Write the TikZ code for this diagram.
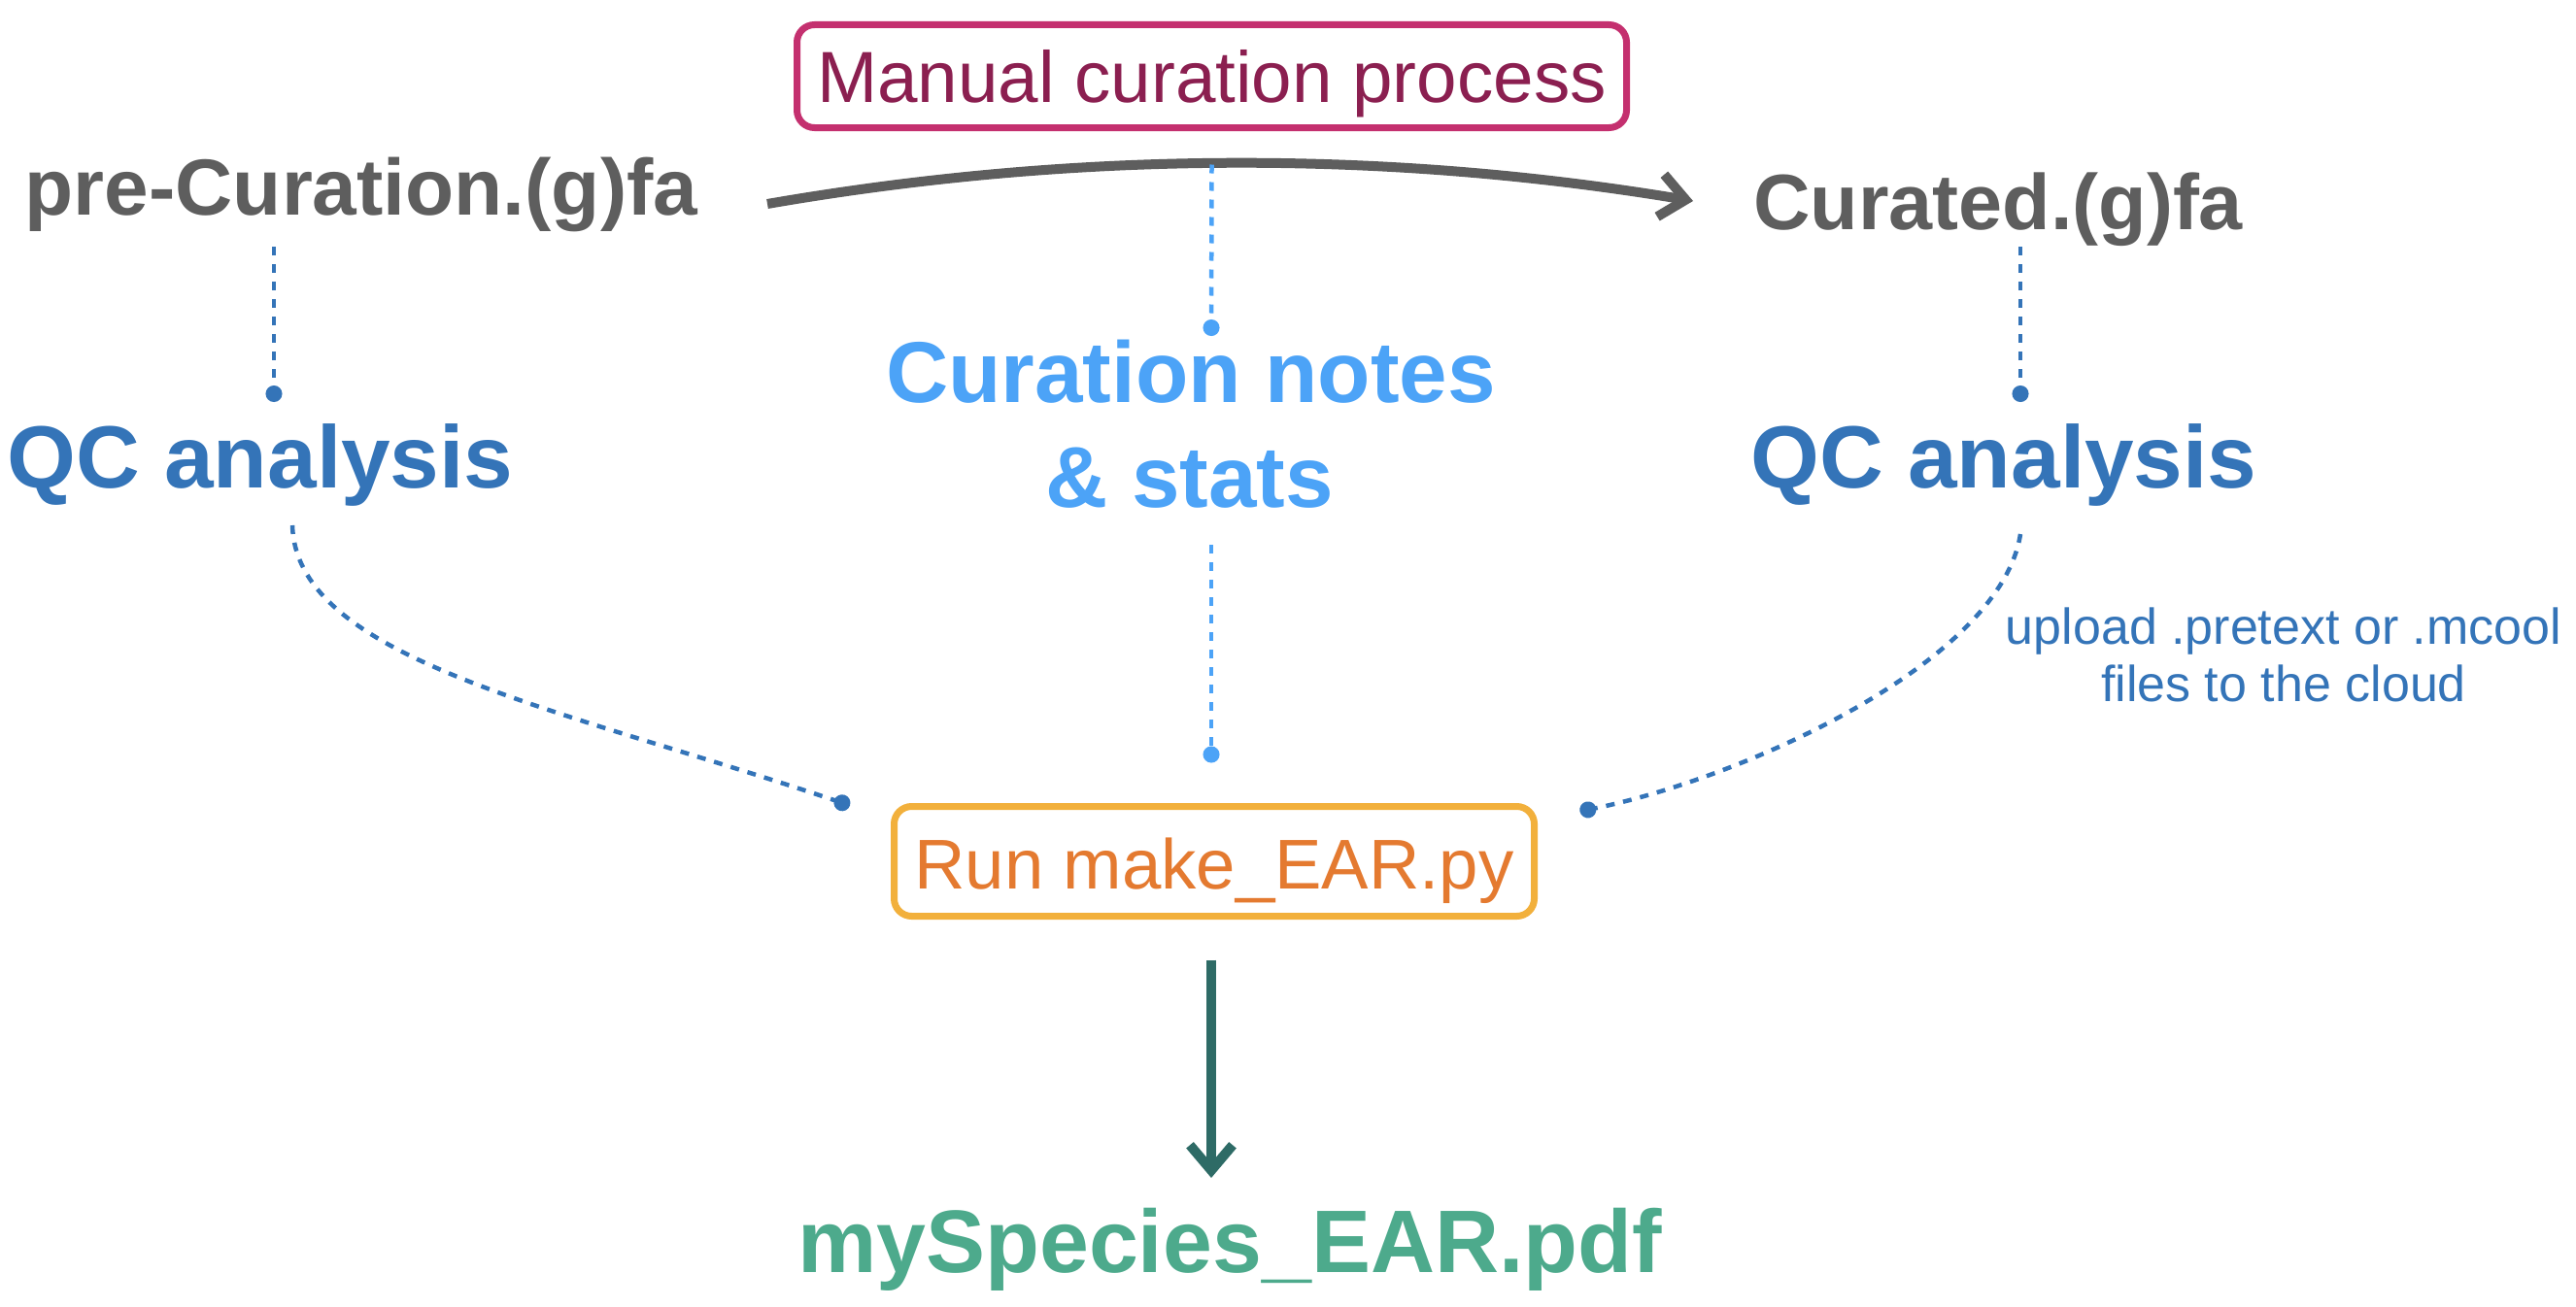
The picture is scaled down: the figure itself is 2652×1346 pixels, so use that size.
\documentclass[tikz,border=0pt]{standalone}
\usepackage{fontspec}
\setmainfont{Liberation Sans}
\usetikzlibrary{arrows.meta}
\definecolor{cgray}{HTML}{5E5E5E}
\definecolor{cmagB}{HTML}{C4306F}
\definecolor{cmagT}{HTML}{8B1F50}
\definecolor{corgB}{HTML}{F2B03C}
\definecolor{corgT}{HTML}{E47A30}
\definecolor{cteal}{HTML}{2E6B66}
\definecolor{cblue}{HTML}{3474B8}
\definecolor{clblue}{HTML}{4CA3F7}
\definecolor{cgreen}{HTML}{4DAA8C}
\tikzset{
  txt/.style={inner sep=0pt, anchor=base},
  boxnode/.style={draw, line width=7pt, rounded corners=18pt, inner sep=0pt, anchor=base},
  dotline/.style={line width=4.5pt, dash pattern=on 9pt off 9pt, -{Circle[length=17pt,width=17pt]}},
  bigarrow/.style={line width=10pt, -{Straight Barb[length=26pt,width=44pt]}}
}
\begin{document}
\begin{tikzpicture}[x=1pt,y=-1pt]
\useasboundingbox (0,0) rectangle (2652,1346);
% nodes
\node[txt, text=cgray, font=\fontsize{82}{98}\selectfont\bfseries] (pre) at (372,221) {pre-Curation.(g)fa};
\node[txt, text=cgray, font=\fontsize{81}{97}\selectfont\bfseries] (cur) at (2057,236) {Curated.(g)fa};
\node[txt, text=cblue, font=\fontsize{91}{109}\selectfont\bfseries] (qcL) at (268,502) {QC analysis};
\node[txt, text=cblue, font=\fontsize{91}{109}\selectfont\bfseries] (qcR) at (2063,502) {QC analysis};
\node[txt, text=clblue, font=\fontsize{89}{107}\selectfont\bfseries] (notesA) at (1226,414) {Curation notes};
\node[txt, text=clblue, font=\fontsize{89}{107}\selectfont\bfseries] (notesB) at (1224.5,522) {\& stats};
\node[boxnode, draw=cmagB, text=cmagT, font=\fontsize{74.6}{90}\selectfont,
      minimum width=854pt, text height=79.5pt, text depth=26.5pt] (manual) at (1247.5,105) {Manual curation process};
\node[boxnode, draw=corgB, text=corgT, font=\fontsize{72.6}{88}\selectfont,
      minimum width=659pt, text height=84.5pt, text depth=28.5pt] (run) at (1250,915) {Run make\_EAR.py};
\node[txt, text=cgreen, font=\fontsize{91.5}{110}\selectfont\bfseries] (species) at (1266,1310) {mySpecies\_EAR.pdf};
\node[text=cblue, font=\fontsize{52}{59}\selectfont, align=center, inner sep=0pt, anchor=base] (upload) at (2351,722)
  {upload .pretext or .mcool\\files to the cloud};
% main arrows
\draw[bigarrow, cgray] ([xshift=418pt,yshift=11pt]pre.base) .. controls (1107,155) and (1425,154) .. ([xshift=-314pt,yshift=29pt]cur.base);
\draw[bigarrow, cteal] ([xshift=-3pt,yshift=-41.5pt]run.south) -- ([xshift=-19pt,yshift=97pt]species.base);
% dotted connectors
\draw[dotline, cblue] ([xshift=-90pt,yshift=-33pt]pre.base) -- ([xshift=14pt,yshift=88pt]qcL.base);
\draw[dotline, cblue] ([xshift=23pt,yshift=-18pt]cur.base) -- ([xshift=17pt,yshift=88pt]qcR.base);
\draw[dotline, clblue] ([yshift=-34.5pt]manual.south) -- ([xshift=21pt,yshift=68pt]notesA.base);
\draw[dotline, clblue] ([xshift=22.5pt,yshift=-39pt]notesB.base) -- ([xshift=-3pt,yshift=41.5pt]run.north);
\draw[dotline, cblue] ([xshift=33pt,yshift=-39pt]qcL.base) .. controls (305,680) and (580,730) .. ([xshift=-42pt,yshift=57.5pt]run.west);
\draw[dotline, cblue] ([xshift=17pt,yshift=-48pt]qcR.base) .. controls (2060,680) and (1800,800) .. ([xshift=43.5pt,yshift=51.4pt]run.east);
\end{tikzpicture}
\end{document}
